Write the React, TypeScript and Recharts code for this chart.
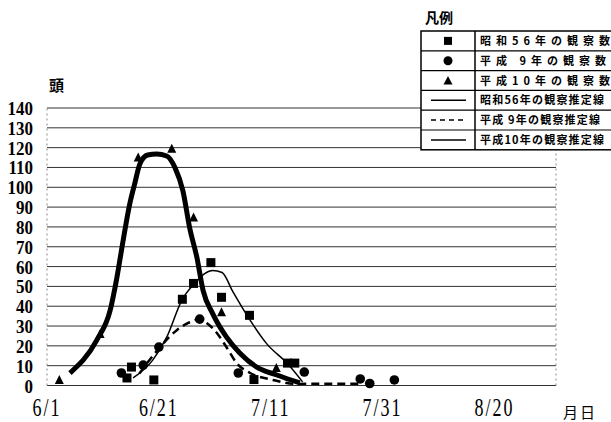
import React from 'react'
import {
  ComposedChart, Line, Scatter, XAxis, YAxis, CartesianGrid, ReferenceLine,
} from 'recharts'

// days counted from 6/1
const dayTicks = [0, 20, 40, 60, 80]
const dayLabels = ['6/1', '6/21', '7/11', '7/31', '8/20']
const countTicks = [0, 10, 20, 30, 40, 50, 60, 70, 80, 90, 100, 110, 120, 130, 140]

// observed counts (頭)
const s56Obs = [
  { day: 14.3, count: 3.8 }, { day: 15.1, count: 9.3 }, { day: 19.1, count: 2.8 },
  { day: 24.2, count: 43.5 }, { day: 26.2, count: 51.5 }, { day: 29.3, count: 62 },
  { day: 31.2, count: 44.5 }, { day: 36.2, count: 35.4 }, { day: 37.0, count: 3 },
  { day: 43.0, count: 11.3 }, { day: 44.3, count: 11.3 },
]
const h9Obs = [
  { day: 13.3, count: 6.3 }, { day: 17.2, count: 10.3 }, { day: 20.0, count: 19.4 },
  { day: 27.3, count: 33.5 }, { day: 34.2, count: 6.3 }, { day: 46.0, count: 6.8 },
  { day: 56.0, count: 3.3 }, { day: 57.7, count: 1 }, { day: 62.1, count: 2.8 },
]
const h10Obs = [
  { day: 2.2, count: 2.8 }, { day: 9.5, count: 26 }, { day: 16.3, count: 115 },
  { day: 22.3, count: 119.5 }, { day: 26.2, count: 84.7 }, { day: 31.2, count: 37 },
  { day: 41.0, count: 8.8 },
]

// estimated curves
const s56Est = [
  { day: 15.4, count: 3.8 }, { day: 18.9, count: 12.8 }, { day: 21.4, count: 24.4 },
  { day: 24.1, count: 43 }, { day: 26.4, count: 51.5 }, { day: 28.2, count: 56.5 },
  { day: 29.6, count: 58 }, { day: 31.3, count: 57 }, { day: 33.2, count: 47.5 },
  { day: 36.3, count: 33 }, { day: 39.3, count: 21 }, { day: 42.9, count: 11.3 },
  { day: 45.7, count: 1.8 },
]
const h9Est = [
  { day: 16.5, count: 6 }, { day: 17.9, count: 11.3 }, { day: 20.2, count: 19.3 },
  { day: 23.2, count: 27.9 }, { day: 25.5, count: 31.9 }, { day: 27.3, count: 33.4 },
  { day: 28.6, count: 31.4 }, { day: 30.4, count: 26.4 }, { day: 32.1, count: 19.3 },
  { day: 33.9, count: 11.3 }, { day: 36.3, count: 6.3 }, { day: 40.4, count: 2.8 },
  { day: 44.6, count: 0.8 }, { day: 50.5, count: 0.9 }, { day: 55.9, count: 0.9 },
]
const h10Est = [
  { day: 4.1, count: 6.3 }, { day: 8.9, count: 22.9 }, { day: 11.3, count: 38 },
  { day: 12.5, count: 54.5 }, { day: 13.6, count: 73 }, { day: 14.8, count: 91.7 },
  { day: 15.7, count: 102 }, { day: 16.6, count: 111.8 }, { day: 18.0, count: 116.3 },
  { day: 19.6, count: 116.8 }, { day: 21.4, count: 115.8 }, { day: 22.9, count: 109.8 },
  { day: 24.3, count: 98.2 }, { day: 25.5, count: 79.6 }, { day: 26.8, count: 64.6 },
  { day: 27.9, count: 48 }, { day: 29.6, count: 36.4 }, { day: 32.1, count: 24.4 },
  { day: 34.5, count: 16.3 }, { day: 37.5, count: 9.3 }, { day: 41.1, count: 5.3 },
  { day: 45.2, count: 1.3 },
]

const legendRows = [
  { label: '昭和56年の観察数', mark: 'square', spacing: 5 },
  { label: '平成 9年の観察数', mark: 'circle', spacing: 5 },
  { label: '平成10年の観察数', mark: 'triangle', spacing: 5 },
  { label: '昭和56年の観察推定線', mark: 'line', spacing: 1.2 },
  { label: '平成 9年の観察推定線', mark: 'dash', spacing: 1.2 },
  { label: '平成10年の観察推定線', mark: 'line', spacing: 1.2 },
]

const SquareDot = (p: any) => <rect x={p.cx - 4.5} y={p.cy - 4.5} width={9} height={9} fill="#000" />
const CircleDot = (p: any) => <circle cx={p.cx} cy={p.cy} r={4.8} fill="#000" />
const TriDot = (p: any) => (
  <polygon points={`${p.cx},${p.cy - 5} ${p.cx - 4.5},${p.cy + 4} ${p.cx + 4.5},${p.cy + 4}`} fill="#000" />
)

const serif = '"Liberation Serif", "DejaVu Serif", serif'
const cjk = '"Noto Sans CJK JP", "Noto Sans", sans-serif'

function DayTick({ x, y, payload }: any) {
  const i = dayTicks.indexOf(payload.value)
  return (
    <g transform={`translate(${x},${y + 30}) scale(1,1.35)`}>
      <text textAnchor="middle" fontFamily={serif} fontSize={18} letterSpacing={2} fill="#000">
        {dayLabels[i]}
      </text>
    </g>
  )
}

function CountTick({ x, y, payload }: any) {
  return (
    <g transform={`translate(${x},${y + 7}) scale(1,1.15)`}>
      <text textAnchor="end" fontFamily={serif} fontSize={17} fontWeight="bold" fill="#000">
        {payload.value}
      </text>
    </g>
  )
}

function LegendMark({ mark, cy }: { mark: string; cy: number }) {
  const cx = 448
  if (mark === 'square') return <rect x={cx - 4} y={cy - 4} width={8} height={8} fill="#000" />
  if (mark === 'circle') return <circle cx={cx} cy={cy} r={4.5} fill="#000" />
  if (mark === 'triangle') return <polygon points={`${cx},${cy - 4.5} ${cx - 4.5},${cy + 4} ${cx + 4.5},${cy + 4}`} fill="#000" />
  if (mark === 'dash') return <line x1={431} x2={466} y1={cy} y2={cy} stroke="#000" strokeWidth={1.5} strokeDasharray="5 4" />
  return <line x1={431} x2={466} y1={cy} y2={cy} stroke="#000" strokeWidth={1.5} />
}

export default function App() {
  const boxTop = 31
  const rowH = 19.8
  return (
    <div style={{ position: 'absolute', left: 0, top: 0, width: 611, height: 422, background: '#fff', overflow: 'hidden' }}>
      <ComposedChart width={611} height={422} margin={{ top: 108, right: 55, bottom: 0, left: 0 }}>
        <CartesianGrid vertical={false} stroke="#333" strokeWidth={1} horizontalValues={countTicks} />
        <XAxis
          dataKey="day" type="number" domain={[0, 91]} ticks={dayTicks}
          axisLine={false} tickLine={false} tickSize={0} tickMargin={0} height={36.5}
          tick={<DayTick />} allowDuplicatedCategory={false}
        />
        <YAxis
          type="number" domain={[0, 140]} ticks={countTicks} interval={0}
          axisLine={false} tickLine={false} tickSize={0} tickMargin={14} width={47}
          tick={<CountTick />}
        />
        <ReferenceLine x={0} stroke="#888" strokeDasharray="2 3" />
        <ReferenceLine x={91} stroke="#888" strokeDasharray="2 3" />
        <Line data={h10Est} dataKey="count" type="monotone" stroke="#000" strokeWidth={5}
          dot={false} activeDot={false} isAnimationActive={false} />
        <Line data={s56Est} dataKey="count" type="monotone" stroke="#000" strokeWidth={1.5}
          dot={false} activeDot={false} isAnimationActive={false} />
        <Line data={h9Est} dataKey="count" type="monotone" stroke="#000" strokeWidth={2.5}
          strokeDasharray="8 5" dot={false} activeDot={false} isAnimationActive={false} />
        <Scatter data={s56Obs} dataKey="count" shape={SquareDot} isAnimationActive={false} />
        <Scatter data={h9Obs} dataKey="count" shape={CircleDot} isAnimationActive={false} />
        <Scatter data={h10Obs} dataKey="count" shape={TriDot} isAnimationActive={false} />
      </ComposedChart>
      <svg width={611} height={422} style={{ position: 'absolute', left: 0, top: 0, pointerEvents: 'none' }}>
        <text x={49} y={91} fontFamily={cjk} fontSize={15} fontWeight="bold">頭</text>
        <text x={563} y={418} fontFamily={cjk} fontSize={15} letterSpacing={2}>月日</text>
        <text x={425} y={23} fontFamily={cjk} fontSize={14} fontWeight="bold">凡例</text>
        <rect x={421} y={boxTop} width={200} height={rowH * 6} fill="#fff" stroke="#000" strokeWidth={1.5} />
        <line x1={475} x2={475} y1={boxTop} y2={boxTop + rowH * 6} stroke="#000" strokeWidth={1.5} />
        {legendRows.map((r, i) => {
          const cy = boxTop + rowH * i + rowH / 2
          return (
            <g key={r.label}>
              {i > 0 && <line x1={421} x2={611} y1={boxTop + rowH * i} y2={boxTop + rowH * i} stroke="#000" strokeWidth={1.2} />}
              <LegendMark mark={r.mark} cy={cy} />
              <text x={480} y={cy + 4} fontFamily={cjk} fontSize={11} fontWeight="bold" letterSpacing={r.spacing}>
                {r.label}
              </text>
            </g>
          )
        })}
      </svg>
    </div>
  )
}
